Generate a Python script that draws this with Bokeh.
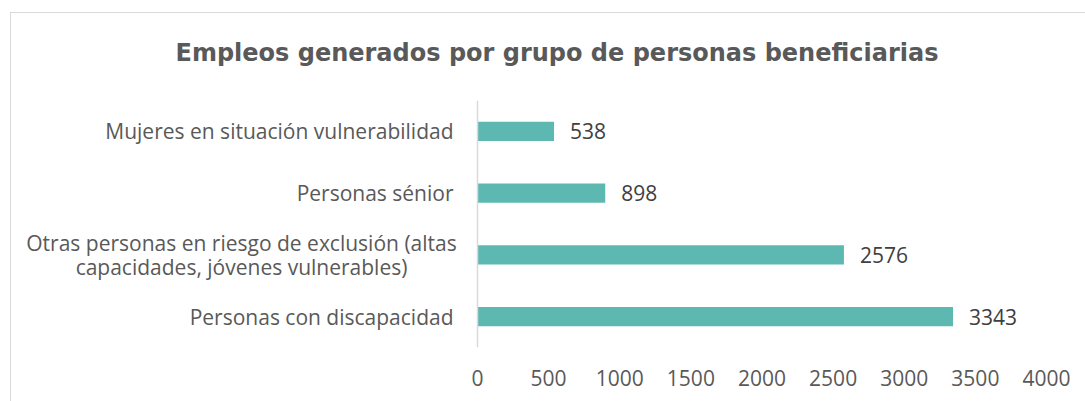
from bokeh.plotting import figure
from bokeh.models import FactorRange, Range1d, FixedTicker, ColumnDataSource, Title, Span
from bokeh.core.properties import value
from bokeh.embed import file_html
from bokeh.resources import INLINE

categories = [
    "Personas con discapacidad",
    "Otras personas en riesgo de exclusión (altas\ncapacidades, jóvenes vulnerables)",
    "Personas sénior",
    "Mujeres en situación vulnerabilidad",
]
values = [3343, 2576, 898, 538]
labels = [str(v) for v in values]
x_ticks = [0, 500, 1000, 1500, 2000, 2500, 3000, 3500, 4000]
x_max = 4000

FONT = "Open Sans"
MULTI = categories[1]
multi_lines = MULTI.split("\n")
single_cats = [c for c in categories if "\n" not in c]

# layout: value axis occupies 569 px to the right of a 466 px label area
LABEL_AREA = 466
VALUE_AREA = 569
x_start = -LABEL_AREA * x_max / VALUE_AREA

src = ColumnDataSource(dict(cat=categories, val=values, lab=labels))

p = figure(
    width=1075, height=389,
    y_range=FactorRange(factors=categories),
    x_range=Range1d(x_start, x_max),
    output_backend="svg", toolbar_location=None,
    min_border_left=0, min_border_right=40,
    min_border_top=87, min_border_bottom=55,
)
p.margin = (12, 0, 0, 10)
p.styles = {"border-left": "1px solid #d9d9d9", "border-top": "1px solid #d9d9d9"}
p.outline_line_color = None
p.background_fill_color = "white"
p.border_fill_color = "white"

p.title = Title(text="Empleos generados por grupo de personas beneficiarias",
                text_font="DejaVu Sans", text_font_size="24px", text_font_style="bold",
                text_color="#595959", align="left", offset=164, standoff=44)
# small spacer between the title and the plotting area
p.add_layout(Title(text=" ", text_font_size="9px", standoff=0), "above")

# value axis line at 0
p.add_layout(Span(location=0, dimension="height", line_color="#d9d9d9", line_width=1.5))

p.hbar(y="cat", right="val", left=0, height=0.31, source=src,
       fill_color="#5CB8B1", line_color=None)

p.text(x="val", y="cat", text="lab", source=src, x_offset=16,
       text_align="left", text_baseline="middle",
       text_font=value(FONT), text_font_size="21px", text_color="#404040")

# category labels
p.text(x=[0] * len(single_cats), y=single_cats, text=single_cats, x_offset=-24,
       text_align="right", text_baseline="middle",
       text_font=value(FONT), text_font_size="21px", text_color="#595959")
p.text(x=[0], y=[MULTI], text=[multi_lines[0]], x_offset=-236, y_offset=-12,
       text_align="center", text_baseline="middle",
       text_font=value(FONT), text_font_size="21px", text_color="#595959")
p.text(x=[0], y=[MULTI], text=[multi_lines[1]], x_offset=-236, y_offset=12,
       text_align="center", text_baseline="middle",
       text_font=value(FONT), text_font_size="21px", text_color="#595959")

p.xgrid.visible = False
p.ygrid.visible = False
p.yaxis.visible = False

p.xaxis.ticker = FixedTicker(ticks=x_ticks)
p.xaxis.axis_line_color = None
p.xaxis.major_tick_line_color = None
p.xaxis.minor_tick_line_color = None
p.xaxis.major_tick_out = 0
p.xaxis.major_tick_in = 0
p.xaxis.major_label_standoff = 22
p.xaxis.major_label_text_font = FONT
p.xaxis.major_label_text_font_size = "21px"
p.xaxis.major_label_text_color = "#595959"

open("out.html", "w").write(file_html(p, INLINE))
